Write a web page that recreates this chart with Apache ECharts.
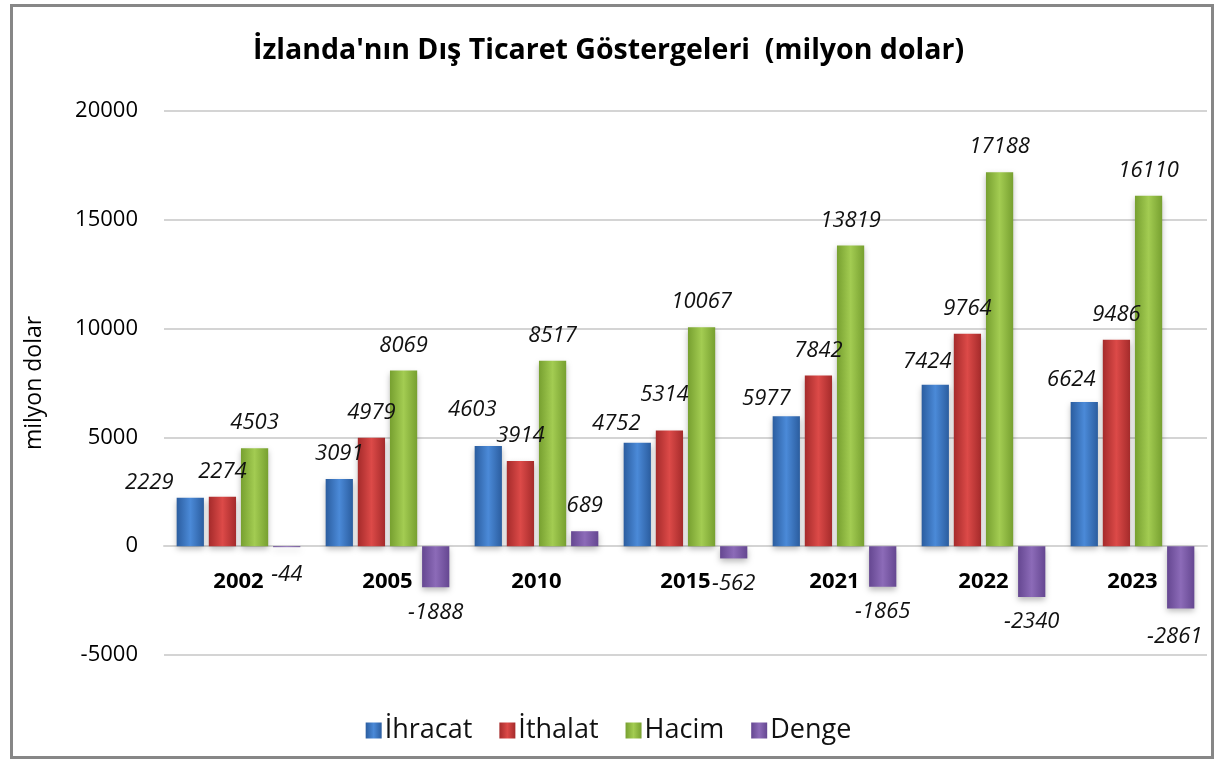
<!DOCTYPE html>
<html>
<head>
<meta charset="utf-8">
<script src="https://cdn.jsdelivr.net/npm/echarts@6/dist/echarts.min.js"></script>
<style>
  html, body { margin: 0; padding: 0; background: #fff; }
  #chart { width: 1217px; height: 759px; }
</style>
</head>
<body>
<div id="chart"></div>
<script>
// ---- Data ----
const years = ['2002', '2005', '2010', '2015', '2021', '2022', '2023'];
const ihracat = [2229, 3091, 4603, 4752, 5977, 7424, 6624];
const ithalat = [2274, 4979, 3914, 5314, 7842, 9764, 9486];
const hacim   = [4503, 8069, 8517, 10067, 13819, 17188, 16110];
const denge   = [-44, -1888, 689, -562, -1865, -2340, -2861];
const yTicks  = [-5000, 0, 5000, 10000, 15000, 20000];
const seriesNames = ['İhracat', 'İthalat', 'Hacim', 'Denge'];
const titleText = "İzlanda'nın Dış Ticaret Göstergeleri  (milyon dolar)";
const yAxisTitle = 'milyon dolar';

// ---- Styling ----
const palettes = [
  ['#2b5d9f', '#4b8ad8', '#2b5d9f'],
  ['#a52b2b', '#dc4a48', '#a52b2b'],
  ['#77a030', '#a3cc52', '#77a030'],
  ['#654791', '#8c6bb8', '#654791']
];
// label nudges (style only): [seriesIndex][categoryIndex] -> [dx, dy]
const labelNudge = {
  0: {0: [-41, 10], 2: [-16, -11], 3: [-21, 6], 4: [-20, 8], 5: [-8, 2], 6: [-13, 3]},
  1: {3: [-5, -11]},
  3: {0: [0, 3], 6: [-6, 3]}
};
const FONT = '"Open Sans", "Noto Sans", sans-serif';

function grad(p) {
  return new echarts.graphic.LinearGradient(0, 0, 1, 0, [
    {offset: 0, color: p[0]}, {offset: 0.5, color: p[1]}, {offset: 1, color: p[2]}
  ]);
}

const allSeries = [ihracat, ithalat, hacim, denge];
const series = allSeries.map((vals, si) => ({
  name: seriesNames[si],
  type: 'bar',
  barGap: '18%',
  barCategoryGap: '17%',
  itemStyle: {
    color: grad(palettes[si]),
    shadowColor: 'rgba(0,0,0,0.28)',
    shadowBlur: 6,
    shadowOffsetY: 3
  },
  label: {
    show: true,
    fontFamily: FONT,
    fontStyle: 'italic',
    fontSize: 22,
    color: '#111',
    distance: 14
  },
  data: vals.map((v, ci) => {
    const d = {value: v, label: {position: v < 0 ? 'bottom' : 'top'}};
    const n = labelNudge[si] && labelNudge[si][ci];
    if (n) d.label.offset = n;
    return d;
  })
}));

const chart = echarts.init(document.getElementById('chart'), null, {renderer: 'canvas'});
chart.setOption({
  animation: false,
  backgroundColor: '#fff',
  title: {
    text: titleText,
    left: 'center',
    top: 31,
    textStyle: {fontFamily: FONT, fontWeight: 'bold', fontSize: 28.5, color: '#000'}
  },
  legend: {
    bottom: 10,
    left: 'center',
    itemWidth: 16,
    itemHeight: 16,
    itemGap: 27,
    icon: 'rect',
    textStyle: {fontFamily: FONT, fontSize: 27, color: '#111', padding: [0, 0, 0, -2]},
    data: seriesNames.map((n, i) => ({name: n, itemStyle: {color: grad(palettes[i])}}))
  },
  grid: {left: 164, right: 10, top: 111, bottom: 104, containLabel: false},
  xAxis: {
    type: 'category',
    data: years,
    position: 'bottom',
    offset: 0,
    axisTick: {show: false},
    axisLine: {onZero: false, lineStyle: {color: '#d4d4d4', width: 2}},
    axisLabel: {fontFamily: FONT, fontWeight: 'bold', fontSize: 22, color: '#000', margin: 25}
  },
  yAxis: {
    type: 'value',
    min: yTicks[0],
    max: yTicks[yTicks.length - 1],
    interval: yTicks[1] - yTicks[0],
    name: yAxisTitle,
    nameLocation: 'middle',
    nameGap: 118,
    nameTextStyle: {fontFamily: FONT, fontSize: 23, color: '#000'},
    axisLine: {show: false},
    axisTick: {show: false},
    axisLabel: {fontFamily: FONT, fontSize: 22, color: '#000', margin: 26, formatter: v => String(v)},
    splitLine: {lineStyle: {color: '#d4d4d4', width: 2}}
  },
  graphic: [{
    type: 'rect',
    left: 9, top: 3,
    shape: {width: 1201, height: 752},
    style: {fill: 'none', stroke: '#878787', lineWidth: 3},
    silent: true
  }],
  series: series
});

// Move the category axis to the value 0 using the library's own scale.
const yZero = chart.convertToPixel({yAxisIndex: 0}, 0);
const yMinPx = chart.convertToPixel({yAxisIndex: 0}, yTicks[0]);
chart.setOption({xAxis: {offset: -(yMinPx - yZero)}});
</script>
</body>
</html>
